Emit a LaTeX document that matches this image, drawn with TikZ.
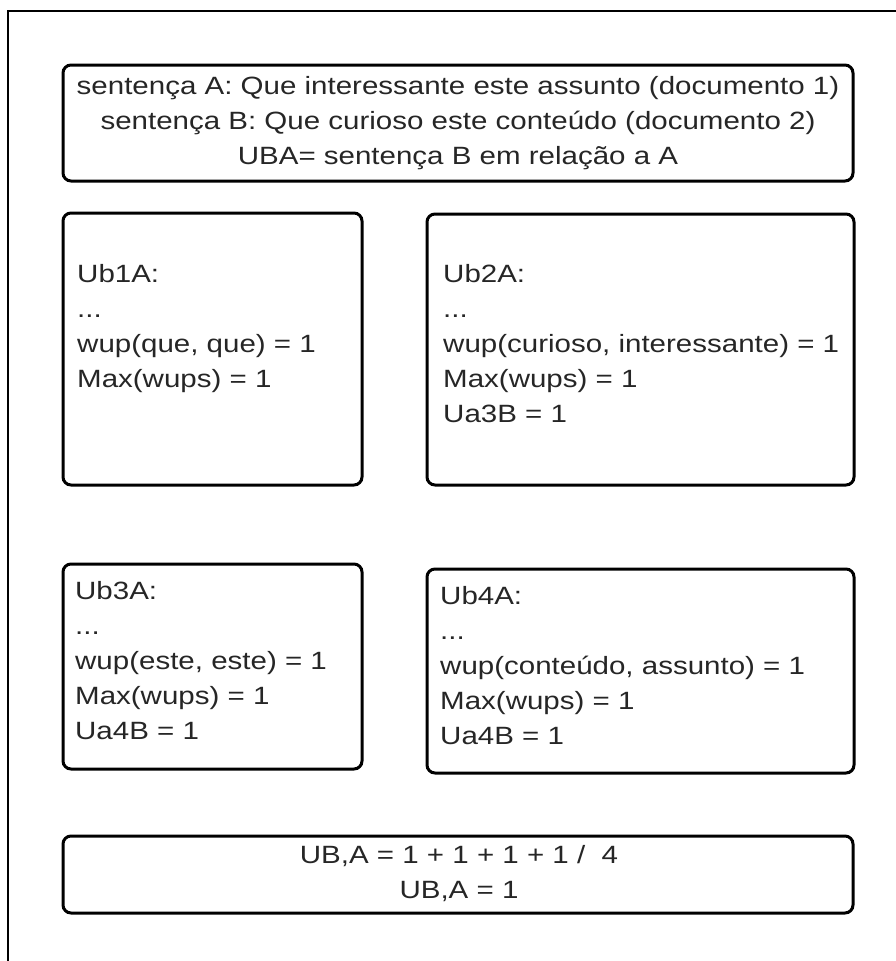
\documentclass[tikz,border=0pt]{standalone}
\usepackage{fontspec}
\setmainfont[FakeStretch=1.18]{Liberation Sans}
\begin{document}
\begin{tikzpicture}[x=1pt,y=-1pt,
  box/.style={draw=black,line width=3pt,rounded corners=8pt,inner sep=0pt},
  txt/.style={inner sep=0pt,font=\fontsize{25}{35}\selectfont,text=black!85},
  frame/.style={draw=black,line width=2.5pt}]
\useasboundingbox (0,0) rectangle (896,961);
% outer frame (top and left edges)
\coordinate (ftr) at (896,11);
\coordinate (ftl) at (8,11);
\coordinate (fbl) at (8,961);
\draw[frame] (ftr) -- (ftl) -- (fbl);
% boxes
\draw[box] (63,65) rectangle (853,181);
\draw[box] (63,213) rectangle (362,485);
\draw[box] (427,214) rectangle (854,485);
\draw[box] (63,564) rectangle (362,769);
\draw[box] (427,569) rectangle (854,773);
\draw[box] (63,836) rectangle (853,913);
% texts (anchor base = baseline of the last line)
\node[txt,align=center,anchor=base] (top) at (458,164)
  {sentença A: Que interessante este assunto (documento 1)\\
   sentença B: Que curioso este conteúdo (documento 2)\\
   UBA= sentença B em relação a A};
\node[txt,align=left,anchor=base west] (ub1) at (77,387)
  {Ub1A:\\...\\wup(que, que) = 1\\Max(wups) = 1};
\node[txt,align=left,anchor=base west] (ub2) at (443,422)
  {Ub2A:\\...\\wup(curioso, interessante) = 1\\Max(wups) = 1\\Ua3B = 1};
\node[txt,align=left,anchor=base west] (ub3) at (75,739)
  {Ub3A:\\...\\wup(este, este) = 1\\Max(wups) = 1\\Ua4B = 1};
\node[txt,align=left,anchor=base west] (ub4) at (440,744)
  {Ub4A:\\...\\wup(conteúdo, assunto) = 1\\Max(wups) = 1\\Ua4B = 1};
\node[txt,align=center,anchor=base] (res) at (459,898)
  {UB,A = 1 + 1 + 1 + 1 /\ \ 4\\UB,A = 1};
\end{tikzpicture}
\end{document}
